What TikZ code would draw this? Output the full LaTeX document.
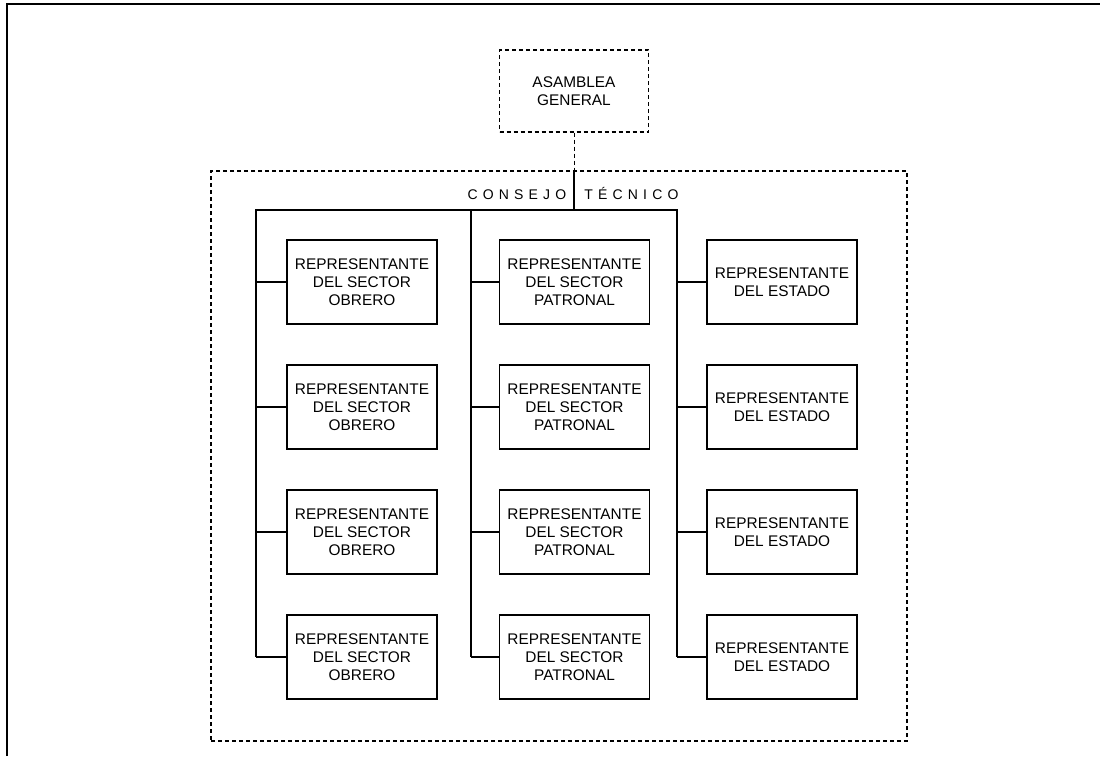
\documentclass[tikz,border=0pt]{standalone}
\usepackage{fontspec}
\setmainfont{Liberation Sans}
\usetikzlibrary{calc}

\begin{document}
\begin{tikzpicture}[x=1pt,y=-1pt,
  repbox/.style={draw,line width=1.2pt,minimum width=150pt,minimum height=84pt,inner sep=0pt,align=center,font=\fontsize{15.4pt}{18.3pt}\selectfont},
  dashbox/.style={draw,line width=1.3pt,dash pattern=on 4pt off 3pt},
  bus/.style={line width=2pt},
  stub/.style={line width=1.5pt}]
\useasboundingbox (0,0) rectangle (1100,756);
\draw[line width=2.5pt] (7,756) -- (7,4) -- (1100,4);
\node[dashbox,minimum width=149pt,minimum height=82pt,inner sep=0pt,align=center,font=\fontsize{15.4pt}{18.5pt}\selectfont] (asamblea) at (574,91) {ASAMBLEA\\GENERAL};
\node[dashbox,minimum width=696pt,minimum height=570pt,inner sep=0pt] (consejo) at (559,456) {};
\node[font=\fontsize{14pt}{16pt}\selectfont\addfontfeature{LetterSpace=37}] (titulo) at (573,193) {CONSEJO\ \ TÉCNICO};
\coordinate (bobrero) at (256,210);
\coordinate (bpatronal) at (471,210);
\coordinate (bestado) at (677,210);
\foreach \i/\y in {1/282,2/407,3/532,4/657} {
  \node[repbox] (obrero\i) at (362,\y) {REPRESENTANTE\\DEL SECTOR\\OBRERO};
  \node[repbox] (patronal\i) at (574.5,\y) {REPRESENTANTE\\DEL SECTOR\\PATRONAL};
  \node[repbox] (estado\i) at (782,\y) {REPRESENTANTE\\DEL ESTADO};
  \draw[stub] (obrero\i.west) -- (bobrero |- obrero\i.west);
  \draw[stub] (patronal\i.west) -- (bpatronal |- patronal\i.west);
  \draw[stub] (estado\i.west) -- (bestado |- estado\i.west);
}
\draw[line width=1pt,dash pattern=on 4pt off 3pt] (asamblea.south) -- (asamblea.south |- consejo.north);
\draw[bus] (asamblea.south |- consejo.north) -- (asamblea.south |- bpatronal);
\draw[bus] (bobrero |- obrero4.west) -- (bobrero) -- (bestado) -- (bestado |- estado4.west);
\draw[bus] (bpatronal) -- (bpatronal |- patronal4.west);
\end{tikzpicture}
\end{document}
